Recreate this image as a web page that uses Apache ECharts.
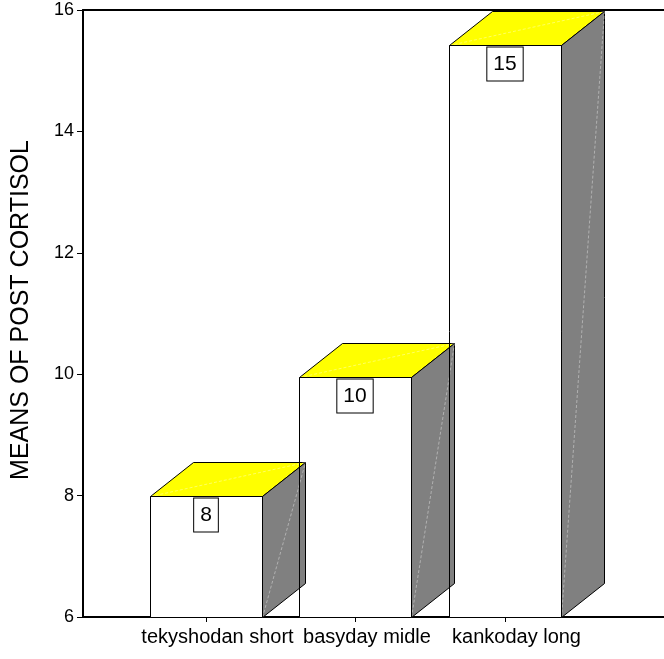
<!DOCTYPE html>
<html>
<head>
<meta charset="utf-8">
<script src="https://cdn.jsdelivr.net/npm/echarts@6/dist/echarts.min.js"></script>
<style>
  html, body { margin: 0; padding: 0; background: #fff; }
  #chart { width: 664px; height: 659px; }
</style>
</head>
<body>
<div id="chart"></div>
<script>
// Mean post-treatment cortisol per group
const categories = ['tekyshodan short', 'basyday midle', 'kankoday long'];
const meanCortisol = [8.0, 9.96, 15.42];
const categoryPositions = [1, 2, 3];
const yTicks = [6, 8, 10, 12, 14, 16];

const yMin = yTicks[0];
const yMax = yTicks[yTicks.length - 1];
const yStep = yTicks[1] - yTicks[0];

// 3D box geometry (pixels)
const FRONT_W = 112;
const DEPTH_X = 43;
const DEPTH_Y = -34;
const FONT = '"Liberation Sans", Arial, sans-serif';

const seriesData = categoryPositions.map((x, i) => [x, meanCortisol[i]]);

function renderBox(params, api) {
  const xv = api.value(0);
  const yv = api.value(1);
  const top = api.coord([xv, yv]);
  const base = api.coord([xv, yMin]);
  const L = Math.round(top[0] - FRONT_W / 2) + 0.5;
  const R = L + FRONT_W;
  const T = Math.round(top[1]) + 0.5;
  const B = Math.round(base[1]) + 0.5;
  const outline = { stroke: '#000', lineWidth: 1 };
  const faint = { stroke: 'rgba(255,255,255,0.55)', lineWidth: 0.7, lineDash: [3, 2], fill: null };
  return {
    type: 'group',
    children: [
      { type: 'rect', shape: { x: L, y: T, width: R - L, height: B - T }, style: { fill: '#fff' }, z2: 1 },
      { type: 'polygon', shape: { points: [[L, T], [L + DEPTH_X, T + DEPTH_Y], [R + DEPTH_X, T + DEPTH_Y], [R, T]] },
        style: Object.assign({ fill: '#ffff00' }, outline), z2: 2 },
      { type: 'polygon', shape: { points: [[R, T], [R + DEPTH_X, T + DEPTH_Y], [R + DEPTH_X, B + DEPTH_Y], [R, B]] },
        style: Object.assign({ fill: '#808080' }, outline), z2: 2 },
      { type: 'line', shape: { x1: L, y1: T, x2: R + DEPTH_X, y2: T + DEPTH_Y }, style: faint, z2: 3 },
      { type: 'line', shape: { x1: R, y1: B, x2: R + DEPTH_X, y2: T + DEPTH_Y }, style: faint, z2: 3 },
      { type: 'rect', shape: { x: L, y: T, width: R - L, height: B - T }, style: Object.assign({ fill: null }, outline), z2: 4 },
      { type: 'text', x: Math.round(top[0]), y: T + 2,
        style: {
          text: String(Math.round(yv)), fill: '#000', fontSize: 21, fontFamily: FONT,
          align: 'center', verticalAlign: 'top',
          backgroundColor: '#fff', borderColor: '#000', borderWidth: 1, padding: [6, 6, 6, 6]
        }, z2: 5 }
    ]
  };
}

const chart = echarts.init(document.getElementById('chart'), null, { renderer: 'canvas' });
chart.setOption({
  animation: false,
  backgroundColor: '#fff',
  grid: { left: 83, right: 0, top: 10, bottom: 42, containLabel: false },
  xAxis: [
    {
      type: 'value', min: 0.1773, max: 4.0635, position: 'bottom',
      axisLine: { show: true, lineStyle: { color: '#000', width: 2 } },
      axisTick: { show: true, length: 5, customValues: categoryPositions, lineStyle: { color: '#000' } },
      axisLabel: {
        customValues: categoryPositions, margin: 10, color: '#000', fontSize: 20, fontFamily: FONT,
        padding: [0, 0, 0, 23],
        formatter: v => categories[categoryPositions.indexOf(v)] || ''
      },
      splitLine: { show: false }
    },
    {
      type: 'value', min: 0.1773, max: 4.0635, position: 'top',
      axisLine: { show: true, lineStyle: { color: '#000', width: 2 } },
      axisTick: { show: false }, axisLabel: { show: false }, splitLine: { show: false }
    }
  ],
  yAxis: {
    type: 'value', min: yMin, max: yMax, interval: yStep,
    name: 'MEANS OF POST CORTISOL', nameLocation: 'middle', nameGap: 49,
    nameTextStyle: { color: '#000', fontSize: 25, fontFamily: FONT, padding: [0, 0, 0, 7] },
    axisLine: { show: true, lineStyle: { color: '#000', width: 2 } },
    axisTick: { show: true, length: 6, lineStyle: { color: '#000' } },
    axisLabel: { color: '#000', fontSize: 18, fontFamily: FONT, margin: 9 },
    splitLine: { show: false }
  },
  series: [{
    type: 'custom',
    clip: false,
    renderItem: renderBox,
    encode: { x: 0, y: 1 },
    data: seriesData
  }]
});
</script>
</body>
</html>
